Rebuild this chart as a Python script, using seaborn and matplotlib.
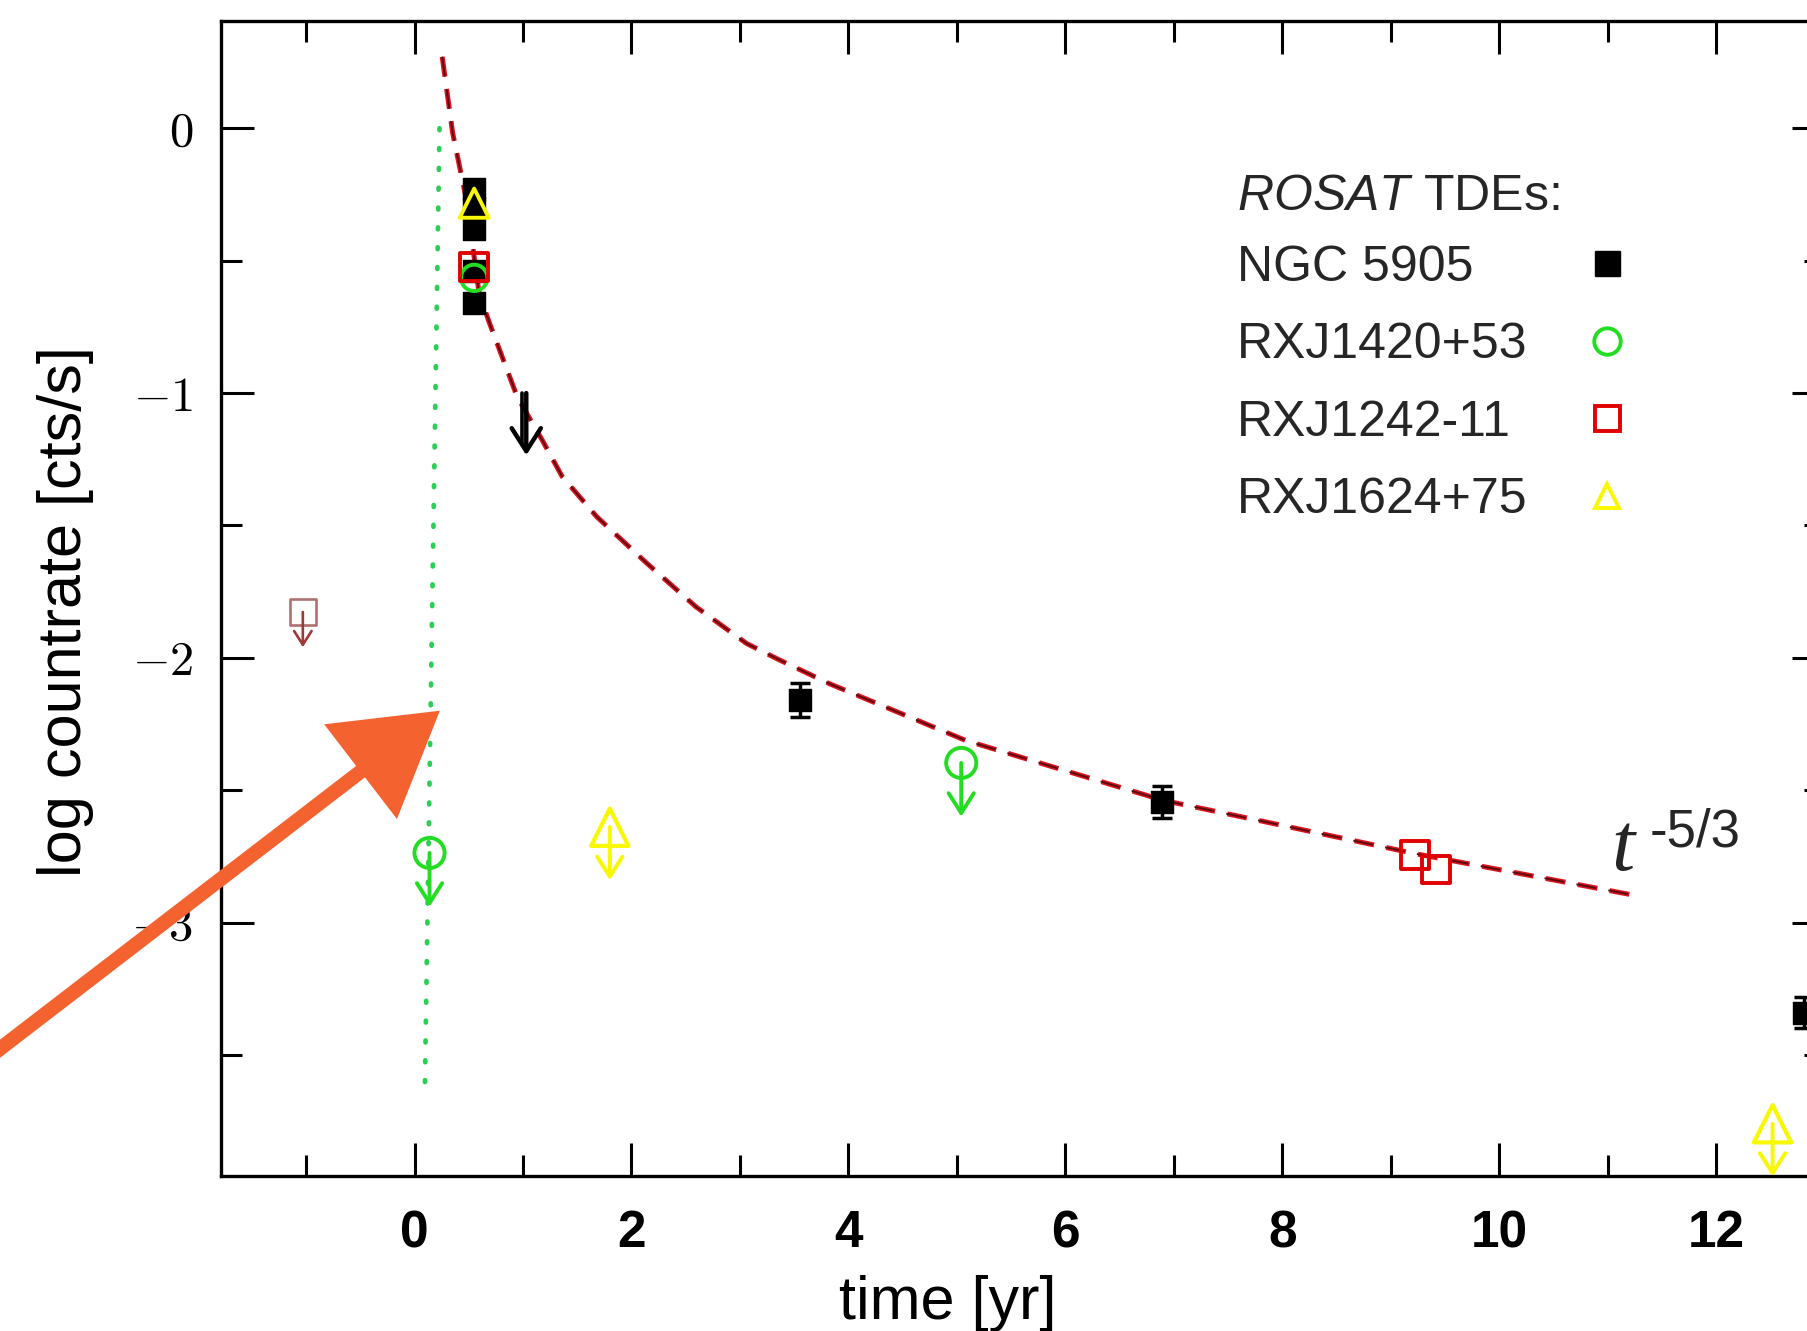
import numpy as np
import pandas as pd
import matplotlib
matplotlib.use("Agg")
import matplotlib.pyplot as plt
from matplotlib.lines import Line2D
from matplotlib.patches import FancyArrowPatch
from matplotlib.ticker import MultipleLocator, FuncFormatter
import seaborn as sns

# ROSAT TDE light curves
ngc_t = [0.55, 0.55, 0.55, 0.55, 0.55, 3.55, 6.89, 12.81]
ngc_rate = [-0.23, -0.30, -0.38, -0.54, -0.66, -2.16, -2.545, -3.34]
ngc_err = [0.03, 0.03, 0.03, 0.03, 0.03, 0.065, 0.06, 0.06]
ngc_ul_t = [1.03]
ngc_ul_rate = [-1.00]
ngc_ul_tip = [-1.235]

rxj1420_t = [0.55]
rxj1420_rate = [-0.565]
rxj1420_ul_t = [0.138, 5.04]
rxj1420_ul_rate = [-2.737, -2.397]
rxj1420_ul_tip = [-2.94, -2.60]

rxj1242_t = [0.55, 9.22, 9.42]
rxj1242_rate = [-0.525, -2.745, -2.80]
rxj1242_pre_t = [-1.03]
rxj1242_pre_rate = [-1.827]
rxj1242_pre_tip = [-1.96]

rxj1624_t = [0.55]
rxj1624_rate = [-0.283]
rxj1624_ul_t = [1.80, 12.52]
rxj1624_ul_rate = [-2.64, -3.76]
rxj1624_ul_tip = [-2.84, -3.96]

# t^-5/3 decline curve
model_t = [0.255, 0.351, 0.478, 0.595, 0.691, 0.946, 1.180, 1.360, 1.679, 2.136,
           2.593, 3.061, 3.358, 3.826, 5.080, 6.897, 7.906, 9.203, 11.22]
model_rate = [0.270, -0.017, -0.270, -0.623, -0.736, -1.014, -1.180, -1.315, -1.467, -1.641,
              -1.807, -1.946, -2.007, -2.098, -2.312, -2.538, -2.625, -2.738, -2.895]

# dotted onset line
onset_t = [0.23, 0.094]
onset_rate = [0.0, -3.65]

labels = ["NGC 5905", "RXJ1420+53", "RXJ1242-11", "RXJ1624+75"]

BLACK = "black"
GREEN = "#22dd22"
RED = "#e00000"
YELLOW = "#f8f800"

sns.set_theme(style="ticks")
plt.rcParams["font.family"] = ["Liberation Sans", "DejaVu Sans"]
plt.rcParams["mathtext.fontset"] = "custom"
plt.rcParams["mathtext.rm"] = "Liberation Sans"
plt.rcParams["mathtext.it"] = "Liberation Sans:italic"

fig = plt.figure(figsize=(18.08, 13.31), dpi=100)
ax = fig.add_axes([0.1222, 0.1165, 0.887, 0.8677])

# model curve (red dashes with a dark core) and onset line
ax.plot(model_t, model_rate, color="#e0141e", lw=3.6, linestyle=(0, (4.0, 2.5)), zorder=2)
ax.plot(model_t, model_rate, color="#5a0c10", lw=1.4, linestyle=(0, (10.3, 6.4)), zorder=2)
ax.plot(onset_t, onset_rate, color="#2ccf55", lw=3.4, linestyle=(0, (0.4, 3.8)),
        dash_capstyle="round", zorder=1)

# detections
ax.errorbar(ngc_t, ngc_rate, yerr=ngc_err, fmt="none", ecolor=BLACK, elinewidth=2.5,
            capsize=7, capthick=2.5, zorder=3)
sns.scatterplot(x=ngc_t, y=ngc_rate, marker="s", s=240, color=BLACK, edgecolor=BLACK,
                linewidth=1, ax=ax, zorder=4)
sns.scatterplot(x=rxj1420_t, y=rxj1420_rate, marker="o", s=360, facecolors="none",
                edgecolors=GREEN, linewidth=2.8, ax=ax, zorder=5)
sns.scatterplot(x=rxj1242_t, y=rxj1242_rate, marker="s", s=400, facecolors="none",
                edgecolors=RED, linewidth=2.8, ax=ax, zorder=6)
sns.scatterplot(x=rxj1624_t, y=rxj1624_rate, marker="^", s=440, facecolors="none",
                edgecolors=YELLOW, linewidth=2.8, ax=ax, zorder=7)

# upper limits
def limit_arrows(ts, tops, tips, color, lw=2.8, ms=26):
    for t, top, tip in zip(ts, tops, tips):
        ax.annotate("", xy=(t, tip), xytext=(t, top),
                    arrowprops=dict(arrowstyle="->,head_length=0.55,head_width=0.35",
                                    color=color, lw=lw, shrinkA=0, shrinkB=0,
                                    mutation_scale=ms),
                    annotation_clip=False, zorder=5)

sns.scatterplot(x=rxj1420_ul_t, y=rxj1420_ul_rate, marker="o", s=470, facecolors="none",
                edgecolors=GREEN, linewidth=2.8, ax=ax, zorder=5)
limit_arrows(rxj1420_ul_t, rxj1420_ul_rate, rxj1420_ul_tip, GREEN)

sns.scatterplot(x=rxj1624_ul_t, y=rxj1624_ul_rate, marker="^", s=720, facecolors="none",
                edgecolors=YELLOW, linewidth=3.0, ax=ax, zorder=5)
limit_arrows(rxj1624_ul_t, rxj1624_ul_rate, rxj1624_ul_tip, YELLOW)

sns.scatterplot(x=rxj1242_pre_t, y=rxj1242_pre_rate, marker="s", s=360, facecolors="none",
                edgecolors="#b07070", linewidth=1.9, ax=ax, zorder=5)
limit_arrows(rxj1242_pre_t, rxj1242_pre_rate, rxj1242_pre_tip, "#a03838", lw=1.9, ms=18)

# NGC 5905 limit drawn as a double-shafted arrow
limit_arrows(ngc_ul_t, ngc_ul_rate, ngc_ul_tip, BLACK, lw=3.2, ms=30)
for t, top, tip in zip(ngc_ul_t, ngc_ul_rate, ngc_ul_tip):
    ax.plot([t - 0.04, t - 0.04], [top, tip + 0.04], color=BLACK, lw=2.6, zorder=5)

# axes styling
ax.set_xlim(-1.785, 13.0)
ax.set_ylim(-3.957, 0.405)
ax.xaxis.set_major_locator(MultipleLocator(2))
ax.xaxis.set_minor_locator(MultipleLocator(1))
ax.yaxis.set_major_locator(MultipleLocator(1))
ax.yaxis.set_minor_locator(MultipleLocator(0.5))
ax.xaxis.set_major_formatter(FuncFormatter(lambda v, p: f"{v:.0f}"))
ax.yaxis.set_major_formatter(FuncFormatter(lambda v, p: "$0$" if abs(v) < 1e-9 else f"${v:.0f}$"))
ax.tick_params(which="both", direction="in", top=True, right=True, colors="black", width=2.2)
ax.tick_params(which="major", length=24)
ax.tick_params(which="minor", length=15)
ax.tick_params(axis="x", which="major", labelsize=37, pad=24)
ax.tick_params(axis="y", which="major", labelsize=35, pad=20)
for lab in ax.get_xticklabels():
    lab.set_fontweight("bold")
for lab in ax.get_yticklabels():
    lab.set_math_fontfamily("cm")
for sp in ax.spines.values():
    sp.set_linewidth(2.4)
    sp.set_color("black")
ax.set_facecolor("white")
ax.grid(False)

ax.set_xlabel("time [yr]", fontsize=44, color="black")
ax.set_ylabel("log countrate [cts/s]", fontsize=44, color="black")
ax.xaxis.set_label_coords(0.453, -0.086)
ax.yaxis.set_label_coords(-0.079, 0.489)

ax.text(11.03, -2.80, "t", fontfamily="Liberation Serif", style="italic", fontsize=60,
        va="baseline", ha="left")
ax.text(11.39, -2.714, "-5/3", fontsize=38, va="baseline", ha="left")

# legend: left-aligned names, markers in their own column
ax.text(0.6334, 0.8474, r"$\mathit{ROSAT}$ TDEs:", transform=ax.transAxes, fontsize=36,
        va="center", ha="left")
blank = [Line2D([], [], linestyle="none") for _ in labels]
leg_kw = dict(loc="upper left", frameon=False, fontsize=36, labelspacing=0.63,
              borderpad=0, borderaxespad=0)
leg_names = ax.legend(blank, labels, bbox_to_anchor=(0.6334, 0.8065), handlelength=0,
                      handletextpad=0, **leg_kw)
ax.add_artist(leg_names)
handles = [
    Line2D([], [], marker="s", linestyle="none", color=BLACK, markersize=18),
    Line2D([], [], marker="o", linestyle="none", mfc="none", mec=GREEN, mew=2.8, markersize=19),
    Line2D([], [], marker="s", linestyle="none", mfc="none", mec=RED, mew=2.8, markersize=18),
    Line2D([], [], marker="^", linestyle="none", mfc="none", mec=YELLOW, mew=2.8, markersize=17),
]
leg_marks = ax.legend(handles, [" "] * len(handles), bbox_to_anchor=(0.849, 0.8065),
                      handlelength=1.0, handletextpad=0, **leg_kw)

# hand-drawn style orange pointer
fig.add_artist(FancyArrowPatch((-0.011, 0.2006), (0.2445, 0.4673), transform=fig.transFigure,
                               arrowstyle="simple,head_length=1.8,head_width=2.15,tail_width=0.26",
                               mutation_scale=40, color="#f4622f", lw=0, zorder=20))

fig.savefig("out.png", dpi=100, facecolor="white")
